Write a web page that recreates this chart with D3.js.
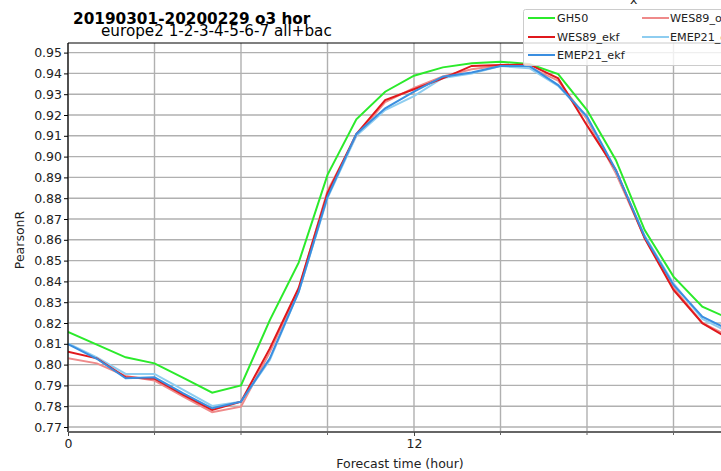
<!DOCTYPE html>
<html><head><meta charset="utf-8">
<script src="https://cdn.jsdelivr.net/npm/d3@7"></script>
<style>body{margin:0;background:#fff}svg{display:block}text{font-family:"DejaVu Sans",sans-serif}</style>
</head><body>
<script>
const hours = d3.range(0, 24);
const GH50 = [0.8157,0.8096,0.8035,0.8006,0.7936,0.7865,0.7900,0.8214,0.8490,0.8912,0.9179,0.9312,0.9389,0.9429,0.9449,0.9456,0.9445,0.9397,0.9224,0.8984,0.8647,0.8423,0.8278,0.8217];
const WES89_ekf = [0.8062,0.8030,0.7939,0.7932,0.7854,0.7782,0.7822,0.8078,0.8368,0.8824,0.9109,0.9272,0.9324,0.9376,0.9436,0.9440,0.9443,0.9376,0.9150,0.8936,0.8607,0.8359,0.8199,0.8118];
const EMEP21_ekf = [0.8098,0.8028,0.7934,0.7939,0.7862,0.7790,0.7822,0.8030,0.8350,0.8807,0.9109,0.9232,0.9312,0.9384,0.9404,0.9436,0.9436,0.9344,0.9192,0.8936,0.8615,0.8383,0.8230,0.8162];
const WES89_ol = [0.8030,0.8006,0.7945,0.7923,0.7846,0.7771,0.7798,0.8060,0.8360,0.8835,0.9100,0.9262,0.9330,0.9385,0.9420,0.9438,0.9430,0.9365,0.9180,0.8920,0.8610,0.8370,0.8200,0.8130];
const EMEP21_ol = [0.8102,0.8035,0.7955,0.7955,0.7878,0.7801,0.7822,0.8022,0.8350,0.8800,0.9100,0.9224,0.9291,0.9378,0.9400,0.9435,0.9425,0.9340,0.9190,0.8930,0.8620,0.8390,0.8220,0.8150];
const seriesNames = ["GH50","WES89_ekf","EMEP21_ekf","WES89_ol","EMEP21_ol"];
const seriesColors = ["#2bea2b","#e0181c","#3a8ee0","#ef8a8a","#8ecdf0"];
const yTicks = [0.77,0.78,0.79,0.80,0.81,0.82,0.83,0.84,0.85,0.86,0.87,0.88,0.89,0.90,0.91,0.92,0.93,0.94,0.95];
const xMajor = [0, 12];
const xMinor = [3,6,9,15,18,21];
const title = "20190301-20200229 o3 hor";
const subtitle = "europe2 1-2-3-4-5-6-7 all+bac";

const data = [GH50, WES89_ekf, EMEP21_ekf, WES89_ol, EMEP21_ol];
const W = 721, H = 471;
const pL = 68, pT = 43, pB = 432, pR = 760;
const x = d3.scaleLinear().domain([0, 12]).range([pL, 414]);
const y = d3.scaleLinear().domain([0.77, 0.95]).range([427, 52.6]);

const svg = d3.select("body").append("svg").attr("width", W).attr("height", H);

// grid
const g = svg.append("g");
g.selectAll("line.h").data(yTicks).join("line")
  .attr("x1", pL).attr("x2", pR).attr("y1", d=>y(d)).attr("y2", d=>y(d))
  .attr("stroke", "#b0b0b0").attr("stroke-width", 1.4);
g.selectAll("line.v").data(xMajor.concat(xMinor)).join("line")
  .attr("x1", d=>x(d)).attr("x2", d=>x(d)).attr("y1", pT).attr("y2", pB)
  .attr("stroke", "#b0b0b0").attr("stroke-width", 1.4);

// lines
svg.append("clipPath").attr("id","c").append("rect")
  .attr("x", pL).attr("y", pT).attr("width", pR-pL).attr("height", pB-pT);
const line = d3.line().x((d,i)=>x(hours[i])).y(d=>y(d));
const order = [0,3,4,1,2];
svg.append("g").attr("clip-path","url(#c)").selectAll("path").data(order).join("path")
  .attr("d", k=>line(data[k])).attr("fill","none")
  .attr("stroke", k=>seriesColors[k]).attr("stroke-width", 2);

// axes
const yAxis = d3.axisLeft(y).tickValues(yTicks).tickFormat(d3.format(".2f")).tickSize(4).tickSizeOuter(0);
const ya = svg.append("g").attr("transform", `translate(${pL},0)`).call(yAxis);
ya.select(".domain").attr("d", `M0,${pT}V${pB}`).attr("stroke","#000").attr("stroke-width",1.2);
ya.selectAll(".tick text").attr("font-size", 12.5).attr("fill","#222").attr("x", -6).attr("font-family","DejaVu Sans");
ya.selectAll(".tick line").attr("stroke","#000");

const xAxis = d3.axisBottom(x).tickValues(xMajor).tickFormat(d3.format("d")).tickSize(4).tickSizeOuter(0);
const xa = svg.append("g").attr("transform", `translate(0,${pB})`).call(xAxis);
xa.select(".domain").attr("d", `M${pL},0H${pR}`).attr("stroke","#666").attr("stroke-width",2.2);
xa.selectAll(".tick text").attr("font-size", 12.5).attr("fill","#222").attr("y", 7).attr("font-family","DejaVu Sans");
xa.selectAll(".tick line").attr("stroke","#444");
xa.selectAll("line.minor").data(xMinor).join("line").attr("class","minor")
  .attr("x1", d=>x(d)).attr("x2", d=>x(d)).attr("y1", 0).attr("y2", 3).attr("stroke","#666");

// top spine
svg.append("line").attr("x1", pL).attr("x2", pR).attr("y1", pT).attr("y2", pT).attr("stroke","#000").attr("stroke-width",1.2);

// labels
svg.append("text").attr("x", 73).attr("y", 24).attr("font-size", 15.3).attr("font-weight","bold").attr("fill","#000").text(title);
svg.append("text").attr("x", 101).attr("y", 36).attr("font-size", 15.2).attr("fill","#000").text(subtitle);
svg.append("text").attr("x", 400).attr("y", 468).attr("text-anchor","middle").attr("font-size", 12.5).attr("fill","#222").text("Forecast time (hour)");
svg.append("text").attr("transform","translate(24,240) rotate(-90)").attr("text-anchor","middle").attr("font-size", 12.5).attr("fill","#222").text("PearsonR");
svg.append("text").attr("x", 630).attr("y", 4).attr("font-size", 12.5).attr("fill","#222").text("x");

// legend
const lg = svg.append("g");
lg.append("rect").attr("x", 523.5).attr("y", 9.5).attr("width", 240).attr("height", 56).attr("rx", 2)
  .attr("fill","#fff").attr("fill-opacity",0.8).attr("stroke","#ccc");
const legPos = [[528,18],[528,37],[528,55],[642,18],[642,37]];
seriesNames.forEach((n,i)=>{
  const [lx,ly] = legPos[i];
  lg.append("line").attr("x1", lx).attr("x2", lx+27).attr("y1", ly).attr("y2", ly).attr("stroke", seriesColors[i]).attr("stroke-width",2);
  lg.append("text").attr("x", lx + (i<3?29:28)).attr("y", ly+4).attr("font-size", 11.2).attr("fill","#222").text(n);
});
</script>
</body></html>
